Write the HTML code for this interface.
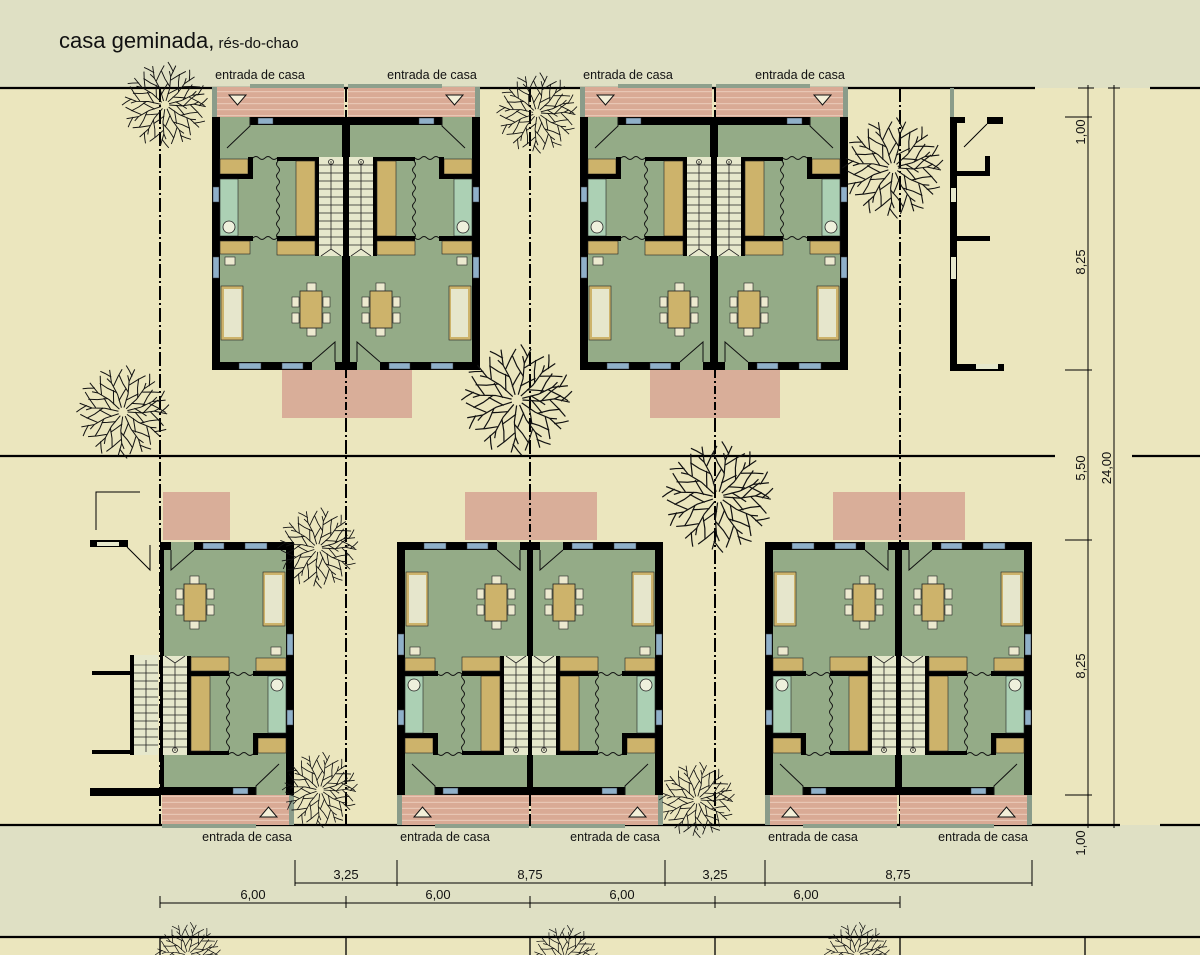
<!DOCTYPE html>
<html><head><meta charset="utf-8"><style>
html,body{margin:0;padding:0;background:#e8e5c2;}
svg{display:block;}
text{font-family:"Liberation Sans",sans-serif;fill:#111;}
</style></head><body>
<svg width="1200" height="955" viewBox="0 0 1200 955" xmlns="http://www.w3.org/2000/svg">
<defs>
<pattern id="stripe" width="10" height="6" patternUnits="userSpaceOnUse">
<rect width="10" height="6" fill="#d9aa95"/><rect y="4" width="10" height="1.2" fill="#e8c6b4"/>
</pattern>
<g id="br" fill="none" stroke="#111" stroke-width="1.1">
<path d="M5,0 L20,1 L34,-1 L48,2"/><path d="M22,1 L30,-7 L38,-13"/><path d="M30,0 L38,8 L44,15"/><path d="M13,0 L19,7 L23,12"/><path d="M40,1 L46,-4 L50,-8"/><path d="M34,-1 L40,-4"/>
</g>
<g id="tree">
<use href="#br" transform="rotate(0)"/><use href="#br" transform="rotate(31)"/><use href="#br" transform="rotate(62)"/><use href="#br" transform="rotate(94)"/><use href="#br" transform="rotate(126)"/><use href="#br" transform="rotate(158)"/><use href="#br" transform="rotate(189)"/><use href="#br" transform="rotate(219)"/><use href="#br" transform="rotate(250)"/><use href="#br" transform="rotate(283)"/><use href="#br" transform="rotate(314)"/><use href="#br" transform="rotate(342)"/>
</g>
<g id="unit">
<!-- porch -->
<rect x="0" y="-30" width="132" height="30" fill="url(#stripe)"/>
<rect x="38" y="-33" width="94" height="4" fill="#8ea08c"/>
<rect x="0" y="-30" width="5" height="30" fill="#8a9c8a"/>
<polygon points="17,-22 34,-22 25.5,-12" fill="#f3efd8" stroke="#111" stroke-width="1"/>
<!-- floor -->
<rect x="0" y="0" width="134" height="253" fill="#94ab87"/>
<!-- outer walls -->
<rect x="0" y="0" width="8" height="253" fill="#000"/>
<rect x="38" y="0" width="96" height="8" fill="#000"/>
<rect x="0" y="0" width="8" height="8" fill="#000"/>
<rect x="0" y="245" width="100" height="8" fill="#000"/>
<rect x="123" y="245" width="11" height="8" fill="#000"/>
<rect x="130" y="0" width="4" height="253" fill="#000"/>
<!-- windows -->
<rect x="46" y="1" width="15" height="6" fill="#8fb0c9" stroke="#333" stroke-width=".5"/>
<rect x="1" y="70" width="6" height="15" fill="#8fb0c9" stroke="#333" stroke-width=".5"/>
<rect x="1" y="140" width="6" height="21" fill="#8fb0c9" stroke="#333" stroke-width=".5"/>
<rect x="27" y="246" width="22" height="6" fill="#8fb0c9" stroke="#333" stroke-width=".5"/>
<rect x="70" y="246" width="21" height="6" fill="#8fb0c9" stroke="#333" stroke-width=".5"/>
<!-- entry door -->
<path d="M38,0 L38,9 L15,31" fill="none" stroke="#111" stroke-width="1"/>
<!-- kitchen/bath walls -->
<rect x="8" y="42" width="28" height="15" fill="#cdb36b" stroke="#222" stroke-width=".6"/>
<rect x="36" y="40" width="5" height="22" fill="#000"/>
<rect x="8" y="57" width="33" height="5" fill="#000"/>
<rect x="65" y="40" width="42" height="4" fill="#000"/>
<rect x="103" y="40" width="4" height="99" fill="#000"/>
<rect x="107" y="40" width="24" height="99" fill="#e6e8cc"/>
<path d="M107,48h24M107,56h24M107,64h24M107,72h24M107,80h24M107,88h24M107,96h24M107,104h24M107,112h24M107,120h24M107,128h24M119,44v88" stroke="#222" stroke-width=".8"/>
<path d="M109,139 L119,132 L129,139" fill="none" stroke="#222" stroke-width=".8"/>
<circle cx="119" cy="45" r="2.5" fill="none" stroke="#222" stroke-width=".8"/>
<path d="M41,41 q3,-3 6,0 t6,0 t6,0 t6,0" fill="none" stroke="#111" stroke-width=".9"/>
<path d="M66,44 q-3,3 0,6 t0,6 t0,6 t0,6 t0,6 t0,6 t0,6 t0,6 t0,6 t0,6 t0,6 t0,6 t0,6" fill="none" stroke="#111" stroke-width=".9"/>
<rect x="84" y="44" width="19" height="75" fill="#cdb36b" stroke="#222" stroke-width=".6"/>
<rect x="8" y="62" width="18" height="57" fill="#acd0b4" stroke="#222" stroke-width=".6"/>
<circle cx="17" cy="110" r="6" fill="#eef0dc" stroke="#222" stroke-width=".8"/>
<rect x="8" y="119" width="33" height="5" fill="#000"/>
<rect x="65" y="119" width="38" height="5" fill="#000"/>
<path d="M41,121 q3,-3 6,0 t6,0 t6,0 t6,0" fill="none" stroke="#111" stroke-width=".9"/>
<rect x="8" y="124" width="30" height="13" fill="#cdb36b" stroke="#222" stroke-width=".6"/>
<rect x="65" y="124" width="38" height="14" fill="#cdb36b" stroke="#222" stroke-width=".6"/>
<rect x="13" y="140" width="10" height="8" fill="#ece9cf" stroke="#222" stroke-width=".6"/>
<!-- living -->
<rect x="9" y="169" width="22" height="54" fill="#cdb36b" stroke="#222" stroke-width=".6"/>
<rect x="12" y="172" width="17" height="48" fill="#e6e6cc"/>
<rect x="80" y="180" width="7" height="10" fill="#ece9cf" stroke="#222" stroke-width=".6"/>
<rect x="80" y="196" width="7" height="10" fill="#ece9cf" stroke="#222" stroke-width=".6"/>
<rect x="111" y="180" width="7" height="10" fill="#ece9cf" stroke="#222" stroke-width=".6"/>
<rect x="111" y="196" width="7" height="10" fill="#ece9cf" stroke="#222" stroke-width=".6"/>
<rect x="95" y="166" width="9" height="8" fill="#ece9cf" stroke="#222" stroke-width=".6"/>
<rect x="95" y="211" width="9" height="8" fill="#ece9cf" stroke="#222" stroke-width=".6"/>
<rect x="88" y="174" width="22" height="37" fill="#cdb36b" stroke="#222" stroke-width=".8"/>
<path d="M123,245 L123,225 L100,245" fill="none" stroke="#111" stroke-width="1"/>
</g>
</defs>

<!-- backgrounds -->
<rect x="0" y="0" width="1200" height="88" fill="#dfe0c4"/>
<rect x="0" y="88" width="1200" height="737" fill="#ebe6be"/>
<rect x="0" y="825" width="1200" height="112" fill="#dfe0c4"/>
<rect x="0" y="937" width="1200" height="18" fill="#ebe6be"/>

<!-- lines -->
<g stroke="#000" stroke-width="2.2">
<line x1="0" y1="88" x2="1035" y2="88"/><line x1="1150" y1="88" x2="1200" y2="88"/>
<line x1="0" y1="456" x2="1055" y2="456"/><line x1="1132" y1="456" x2="1200" y2="456"/>
<line x1="0" y1="825" x2="1120" y2="825"/><line x1="1160" y1="825" x2="1200" y2="825"/>
<line x1="0" y1="937" x2="1200" y2="937"/>
</g>
<g stroke="#000" stroke-width="1.3">
<line x1="160" y1="937" x2="160" y2="955"/><line x1="346" y1="937" x2="346" y2="955"/><line x1="530" y1="937" x2="530" y2="955"/><line x1="715" y1="937" x2="715" y2="955"/><line x1="900" y1="937" x2="900" y2="955"/><line x1="1085" y1="937" x2="1085" y2="955"/>
</g>
<g stroke="#000" stroke-width="2" stroke-dasharray="14,3,2,3">
<line x1="160" y1="88" x2="160" y2="825"/><line x1="346" y1="88" x2="346" y2="825"/><line x1="530" y1="88" x2="530" y2="825"/><line x1="715" y1="88" x2="715" y2="825"/><line x1="900" y1="88" x2="900" y2="825"/>
</g>

<!-- patios -->
<g fill="#d9ae99">
<rect x="282" y="370" width="130" height="48"/><rect x="650" y="370" width="130" height="48"/>
<rect x="163" y="492" width="67" height="48"/><rect x="465" y="492" width="132" height="48"/><rect x="833" y="492" width="132" height="48"/>
</g>
<g stroke="#000" stroke-width="2" stroke-dasharray="8,3,2,3">
<line x1="346" y1="370" x2="346" y2="418"/><line x1="715" y1="370" x2="715" y2="418"/><line x1="530" y1="492" x2="530" y2="540"/><line x1="900" y1="492" x2="900" y2="540"/>
</g>

<!-- houses top -->
<use href="#unit" transform="translate(212,117)"/>
<use href="#unit" transform="translate(480,117) scale(-1,1)"/>
<use href="#unit" transform="translate(580,117)"/>
<use href="#unit" transform="translate(848,117) scale(-1,1)"/>
<!-- houses bottom -->
<use href="#unit" transform="translate(294,795) scale(-1,-1)"/>
<use href="#unit" transform="translate(397,795) scale(1,-1)"/>
<use href="#unit" transform="translate(663,795) scale(-1,-1)"/>
<use href="#unit" transform="translate(765,795) scale(1,-1)"/>
<use href="#unit" transform="translate(1032,795) scale(-1,-1)"/>

<!-- far right partial house -->
<g fill="#000">
<rect x="950" y="117" width="7" height="254"/>
<rect x="950" y="117" width="15" height="6"/><rect x="987" y="117" width="16" height="7"/>
<rect x="957" y="171" width="32" height="5"/><rect x="985" y="156" width="5" height="20"/>
<rect x="957" y="236" width="33" height="5"/>
<rect x="950" y="364" width="54" height="7"/>
</g>
<rect x="950" y="88" width="4" height="29" fill="#8a9c8a"/>
<rect x="951" y="188" width="5" height="14" fill="#e6e8cc"/><rect x="951" y="257" width="5" height="22" fill="#e6e8cc"/>
<rect x="976" y="364" width="22" height="5" fill="#e6e8cc"/>
<line x1="964" y1="147" x2="987" y2="124" stroke="#000" stroke-width="1"/>

<!-- bottom-left extras -->
<g fill="#000">
<rect x="90" y="540" width="38" height="7"/>
<rect x="92" y="671" width="40" height="4"/><rect x="92" y="750" width="40" height="4"/>
<rect x="90" y="788" width="70" height="8"/>
<rect x="130" y="655" width="4" height="100"/>
</g>
<rect x="97" y="542" width="22" height="4" fill="#e6e8cc"/>
<rect x="134" y="655" width="24" height="100" fill="#e6e8cc"/>
<path d="M134,665h24M134,673h24M134,681h24M134,689h24M134,697h24M134,705h24M134,713h24M134,721h24M134,729h24M134,737h24M134,745h24M146,660v92" stroke="#222" stroke-width=".8"/>
<path d="M96,530 L96,492 L140,492" fill="none" stroke="#000" stroke-width="1"/>
<path d="M127,547 L150,570 L150,545" fill="none" stroke="#000" stroke-width="1"/>

<!-- trees -->
<use href="#tree" transform="translate(165,105) scale(.85)"/>
<use href="#tree" transform="translate(537,113) scale(.8)"/>
<use href="#tree" transform="translate(893,168) scale(1)"/>
<use href="#tree" transform="translate(123,412) scale(.92)"/>
<use href="#tree" transform="translate(517,400) scale(1.1)"/>
<use href="#tree" transform="translate(718,497) scale(1.1)"/>
<use href="#tree" transform="translate(318,548) scale(.8)"/>
<use href="#tree" transform="translate(320,790) scale(.75)"/>
<use href="#tree" transform="translate(697,800) scale(.75)"/>
<use href="#tree" transform="translate(188,955) scale(.65)"/>
<use href="#tree" transform="translate(565,958) scale(.65)"/>
<use href="#tree" transform="translate(857,955) scale(.65)"/>

<!-- title -->
<text x="59" y="48" font-size="22">casa geminada,<tspan font-size="15"> rés-do-chao</tspan></text>
<g font-size="12.5" text-anchor="middle">
<text x="260" y="79">entrada de casa</text><text x="432" y="79">entrada de casa</text><text x="628" y="79">entrada de casa</text><text x="800" y="79">entrada de casa</text>
<text x="247" y="841">entrada de casa</text><text x="445" y="841">entrada de casa</text><text x="615" y="841">entrada de casa</text><text x="813" y="841">entrada de casa</text><text x="983" y="841">entrada de casa</text>
</g>

<!-- bottom dimensions -->
<g stroke="#000" stroke-width="1">
<line x1="295" y1="883" x2="1032" y2="883"/>
<line x1="295" y1="860" x2="295" y2="886"/><line x1="397" y1="860" x2="397" y2="886"/><line x1="665" y1="860" x2="665" y2="886"/><line x1="765" y1="860" x2="765" y2="886"/><line x1="1032" y1="860" x2="1032" y2="886"/>
<line x1="160" y1="903" x2="900" y2="903"/>
<line x1="160" y1="896" x2="160" y2="908"/><line x1="346" y1="896" x2="346" y2="908"/><line x1="530" y1="896" x2="530" y2="908"/><line x1="715" y1="896" x2="715" y2="908"/><line x1="900" y1="896" x2="900" y2="908"/>
</g>
<g font-size="13" text-anchor="middle">
<text x="346" y="879">3,25</text><text x="530" y="879">8,75</text><text x="715" y="879">3,25</text><text x="898" y="879">8,75</text>
<text x="253" y="899">6,00</text><text x="438" y="899">6,00</text><text x="622" y="899">6,00</text><text x="806" y="899">6,00</text>
</g>

<!-- right dimensions -->
<g stroke="#000" stroke-width="1">
<line x1="1088" y1="85" x2="1088" y2="828"/>
<line x1="1114" y1="85" x2="1114" y2="828"/>
<line x1="1065" y1="117" x2="1092" y2="117"/><line x1="1065" y1="370" x2="1092" y2="370"/><line x1="1065" y1="540" x2="1092" y2="540"/><line x1="1065" y1="795" x2="1092" y2="795"/>
<line x1="1078" y1="88" x2="1094" y2="88"/><line x1="1108" y1="88" x2="1120" y2="88"/><line x1="1108" y1="825" x2="1120" y2="825"/><line x1="1080" y1="825" x2="1094" y2="825"/>
</g>
<g font-size="13" text-anchor="middle">
<text transform="translate(1085,132) rotate(-90)">1,00</text>
<text transform="translate(1085,262) rotate(-90)">8,25</text>
<text transform="translate(1085,468) rotate(-90)">5,50</text>
<text transform="translate(1111,468) rotate(-90)">24,00</text>
<text transform="translate(1085,666) rotate(-90)">8,25</text>
<text transform="translate(1085,843) rotate(-90)">1,00</text>
</g>
</svg>
</body></html>
